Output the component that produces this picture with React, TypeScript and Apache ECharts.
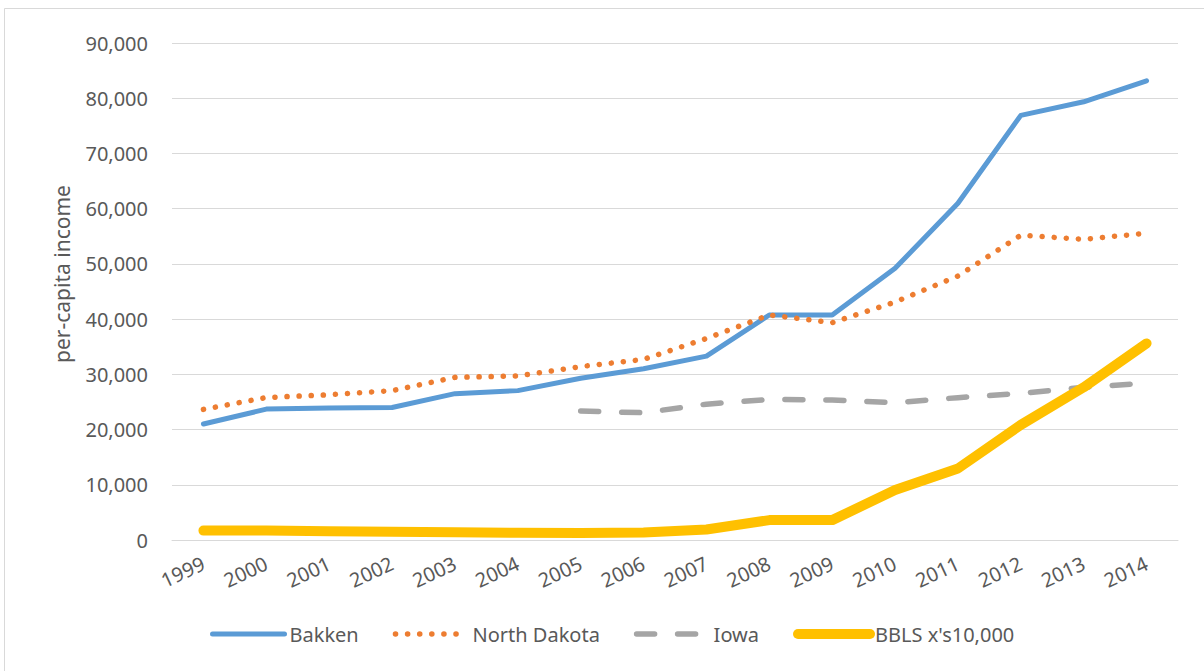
import React, { useEffect, useRef } from "react";
import * as echarts from "echarts";

const years = ["1999","2000","2001","2002","2003","2004","2005","2006","2007","2008","2009","2010","2011","2012","2013","2014"];
const bakken = [21000, 23700, 23900, 24000, 26500, 27050, 29300, 31000, 33300, 40750, 40750, 49200, 60970, 76900, 79350, 83150];
const northDakota = [23650, 25800, 26300, 27050, 29450, 29700, 31400, 32700, 36500, 40750, 39350, 43100, 47800, 55200, 54450, 55550];
const iowa = [null, null, null, null, null, null, 23350, 23050, 24600, 25450, 25350, 24870, 25780, 26560, 27650, 28400];
const bbls = [1700, 1700, 1600, 1500, 1400, 1300, 1250, 1350, 1900, 3600, 3600, 9050, 12950, 20850, 27650, 35600];
const yTicks = { min: 0, max: 90000, interval: 10000 };

const FONT = "'Noto Sans', 'Open Sans', sans-serif";
const TEXT = "#595959";

export default function App() {
  const ref = useRef<HTMLDivElement>(null);
  useEffect(() => {
    if (!ref.current) return;
    const chart = echarts.init(ref.current, null, { renderer: "svg" });
    const styles: Record<string, any> = {
      Bakken: { color: "#5B9BD5", width: 5, type: "solid", cap: "round", join: "round" },
      "North Dakota": { color: "#ED7D31", width: 5.5, type: [0.1, 12], cap: "round", join: "round" },
      Iowa: { color: "#A5A5A5", width: 5.5, type: [18, 23], cap: "round", join: "round" },
      "BBLS x's10,000": { color: "#FFC000", width: 10, type: "solid", cap: "round", join: "round" },
    };
    const data: Record<string, any[]> = {
      Bakken: bakken,
      "North Dakota": northDakota,
      Iowa: iowa,
      "BBLS x's10,000": bbls,
    };
    const names = Object.keys(data);
    chart.setOption({
      animation: false,
      backgroundColor: "#ffffff",
      textStyle: { fontFamily: FONT },
      grid: { left: 172, right: 26, top: 43, bottom: 131 },
      xAxis: {
        type: "category",
        data: years,
        boundaryGap: true,
        axisLine: { show: true, lineStyle: { color: "#d9d9d9", width: 1 } },
        axisTick: { show: false },
        axisLabel: { rotate: 25, color: TEXT, fontSize: 20, fontFamily: FONT, margin: 22 },
      },
      yAxis: {
        type: "value",
        min: yTicks.min,
        max: yTicks.max,
        interval: yTicks.interval,
        axisLine: { show: false },
        axisTick: { show: false },
        splitLine: { lineStyle: { color: "#d9d9d9", width: 1 } },
        axisLabel: {
          color: TEXT,
          fontSize: 20,
          fontFamily: FONT,
          margin: 24,
          formatter: (v: number) => v.toLocaleString("en-US"),
        },
      },
      legend: {
        left: 205,
        top: 619,
        itemWidth: 72,
        itemHeight: 10,
        itemGap: 34,
        textStyle: { color: TEXT, fontSize: 20, fontFamily: FONT },
        itemStyle: { opacity: 0, color: "rgba(0,0,0,0)", borderWidth: 0 },
        data: names.map((n) => ({
          name: n,
          itemStyle: { opacity: 0, color: "rgba(0,0,0,0)", borderWidth: 0 },
          lineStyle: { ...styles[n] },
        })),
      },
      graphic: [
        {
          type: "rect",
          shape: { x: 4.5, y: 8.5, width: 1400, height: 900 },
          style: { fill: "none", stroke: "#d9d9d9", lineWidth: 1 },
          silent: true,
        },
        {
          type: "text",
          x: 62,
          y: 274,
          rotation: Math.PI / 2,
          style: {
            text: "per-capita income",
            fill: TEXT,
            font: `21px ${FONT}`,
            align: "center",
            verticalAlign: "middle",
          },
        },
      ],
      series: names.map((n) => ({
        name: n,
        type: "line",
        data: data[n],
        symbol: "none",
        showSymbol: false,
        connectNulls: false,
        lineStyle: styles[n],
        itemStyle: { color: styles[n].color },
      })),
    });
    return () => chart.dispose();
  }, []);
  return (
    <div
      ref={ref}
      style={{ position: "fixed", left: 0, top: 0, width: 1204, height: 671, background: "#fff" }}
    />
  );
}
